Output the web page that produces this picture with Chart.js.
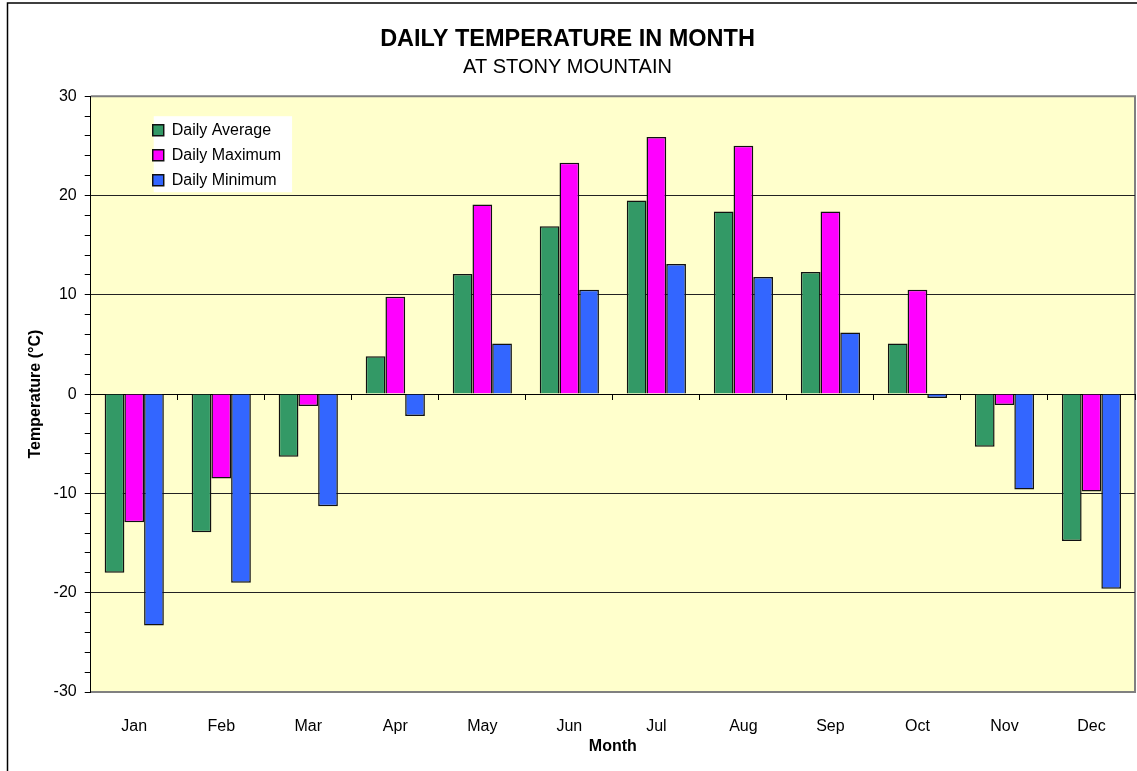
<!DOCTYPE html>
<html>
<head>
<meta charset="utf-8">
<title>Daily Temperature in Month</title>
<script src="https://cdn.jsdelivr.net/npm/chart.js@4/dist/chart.umd.min.js"></script>
<style>
  html, body { margin: 0; padding: 0; background: #fff; }
  #wrap { width: 1137px; height: 771px; }
</style>
</head>
<body>
<div id="wrap"><canvas id="tempChart" width="1137" height="771"></canvas></div>
<script>
// data
const months = ['Jan', 'Feb', 'Mar', 'Apr', 'May', 'Jun', 'Jul', 'Aug', 'Sep', 'Oct', 'Nov', 'Dec'];
const dailyAverage = [-18.0, -13.9, -6.3, 3.8, 12.1, 16.9, 19.5, 18.4, 12.3, 5.1, -5.3, -14.8];
const dailyMaximum = [-12.9, -8.5, -1.2, 9.8, 19.1, 23.3, 25.9, 25.0, 18.4, 10.5, -1.1, -9.8];
const dailyMinimum = [-23.3, -19.0, -11.3, -2.2, 5.1, 10.5, 13.1, 11.8, 6.2, -0.4, -9.6, -19.6];
const yMin = -30;
const yMax = 30;
const yStep = 2;       // minor tick spacing
const yLabelStep = 10; // labelled ticks / gridlines

Chart.defaults.font.family = '"Liberation Sans", Arial, sans-serif';
Chart.defaults.color = '#000';

// paints the yellow plot, its frame, the outer frame and moves the legend inside the plot
const framePlugin = {
    id: 'framePlugin',
    afterLayout(chart) {
        const ca = chart.chartArea;
        const lg = chart.legend;
        lg.left = ca.left + 53;
        lg.top = ca.top + 17;
    },
    beforeDraw(chart) {
        const ctx = chart.ctx;
        const ca = chart.chartArea;
        ctx.save();
        // outer chart frame (only left and top are inside the picture)
        ctx.strokeStyle = '#000';
        ctx.lineWidth = 1.5;
        ctx.strokeRect(7.5, 3, 1300, 1000);
        // plot background
        ctx.fillStyle = '#FFFFCC';
        ctx.fillRect(ca.left, ca.top, ca.right - ca.left, ca.bottom - ca.top);
        // gray plot border top and right
        ctx.strokeStyle = '#808080';
        ctx.lineWidth = 2;
        ctx.beginPath();
        ctx.moveTo(ca.left, ca.top);
        ctx.lineTo(ca.right, ca.top);
        ctx.lineTo(ca.right, ca.bottom);
        ctx.stroke();
        // white legend box
        const boxes = chart.legend.legendHitBoxes || [];
        if (boxes.length) {
            let l = Infinity, t = Infinity, r = -Infinity, b = -Infinity;
            boxes.forEach(h => {
                l = Math.min(l, h.left);
                t = Math.min(t, h.top);
                r = Math.max(r, h.left + h.width);
                b = Math.max(b, h.top + h.height);
            });
            ctx.fillStyle = '#fff';
            ctx.fillRect(l + 1, t - 6, r - l + 10, b - t + 10);
        }
        ctx.restore();
    }
};

const ctx = document.getElementById('tempChart').getContext('2d');

const chart = new Chart(ctx, {
    type: 'bar',
    data: {
        labels: months,
        datasets: [
            {
                label: 'Daily Average',
                data: dailyAverage,
                backgroundColor: '#339966',
                borderColor: '#111',
                borderWidth: 1.5
            },
            {
                label: 'Daily Maximum',
                data: dailyMaximum,
                backgroundColor: '#FF00FF',
                borderColor: '#111',
                borderWidth: 1.5
            },
            {
                label: 'Daily Minimum',
                data: dailyMinimum,
                backgroundColor: '#3366FF',
                borderColor: '#111',
                borderWidth: 1.5
            }
        ]
    },
    options: {
        responsive: false,
        animation: false,
        devicePixelRatio: 1,
        layout: {
            padding: { top: 0, left: 0, right: 2, bottom: 16.5 }
        },
        datasets: {
            bar: {
                categoryPercentage: 0.68,
                barPercentage: 1.0
            }
        },
        plugins: {
            title: {
                display: true,
                text: 'DAILY TEMPERATURE IN MONTH',
                font: { size: 23.5, weight: 'bold' },
                padding: { top: 25, bottom: 0 },
                color: '#000'
            },
            subtitle: {
                display: true,
                text: 'AT STONY MOUNTAIN',
                font: { size: 20 },
                padding: { top: 2, bottom: 17 },
                color: '#000'
            },
            legend: {
                position: 'chartArea',
                align: 'start',
                labels: {
                    boxWidth: 11,
                    boxHeight: 11,
                    padding: 9,
                    font: { size: 16 },
                    color: '#000'
                }
            },
            tooltip: { enabled: false }
        },
        scales: {
            x: {
                position: 'bottom',
                grid: { display: false, drawTicks: false },
                border: { display: true, color: '#808080', width: 2 },
                ticks: {
                    padding: 26.5,
                    font: { size: 16, lineHeight: 1 }
                },
                title: {
                    display: true,
                    text: 'Month',
                    font: { size: 16, weight: 'bold', lineHeight: 1 },
                    padding: { top: -22.5, bottom: 0 }
                }
            },
            x2: {
                type: 'category',
                labels: months,
                position: { y: 0 },
                offset: true,
                grid: {
                    offset: true,
                    drawOnChartArea: false,
                    drawTicks: true,
                    tickLength: 5,
                    tickColor: '#000'
                },
                border: { display: true, color: '#000', width: 1 },
                ticks: { display: false }
            },
            y: {
                min: yMin,
                max: yMax,
                grid: {
                    color: (c) => {
                        const v = c.tick ? c.tick.value : null;
                        if (v === yMin || v === yMax) return 'rgba(0,0,0,0)';
                        return v % yLabelStep === 0 ? '#222' : 'rgba(0,0,0,0)';
                    },
                    tickColor: '#000',
                    tickLength: 6,
                    lineWidth: 1
                },
                border: { display: true, color: '#000', width: 1 },
                ticks: {
                    stepSize: yStep,
                    autoSkip: false,
                    padding: 8,
                    font: { size: 16 },
                    callback: (v) => (v % yLabelStep === 0 ? v : '')
                },
                title: {
                    display: true,
                    text: 'Temperature (°C)',
                    font: { size: 16, weight: 'bold' },
                    padding: { top: 26.4, bottom: 0 }
                }
            }
        }
    },
    plugins: [framePlugin]
});
</script>
</body>
</html>
